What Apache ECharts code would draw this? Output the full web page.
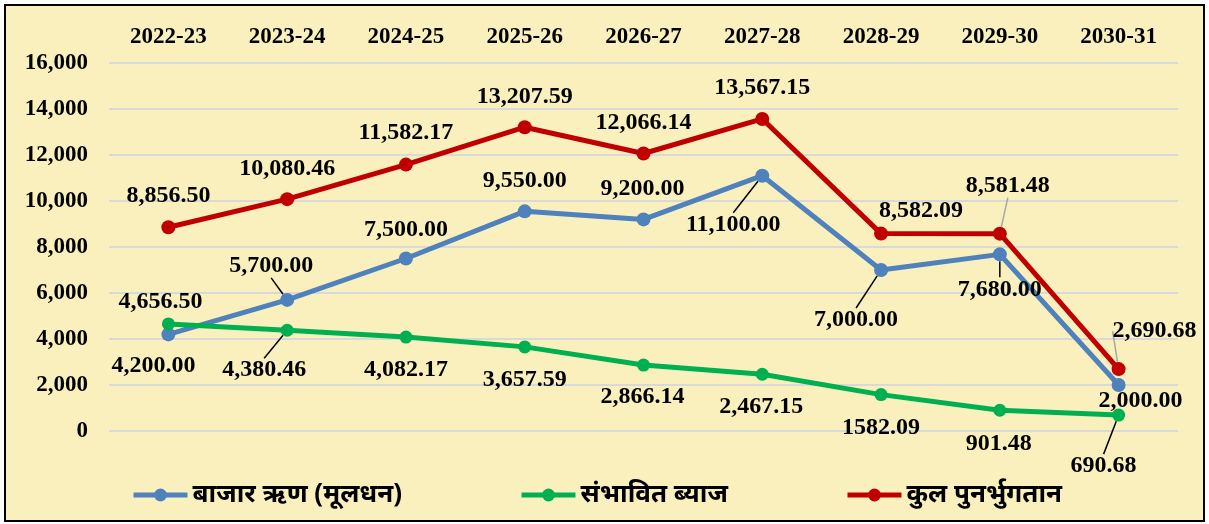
<!DOCTYPE html>
<html>
<head>
<meta charset="utf-8">
<script src="https://cdn.jsdelivr.net/npm/echarts@6/dist/echarts.min.js"></script>
<style>
html,body{margin:0;padding:0;background:#fff;}
#c{width:1209px;height:524px;}
</style>
</head>
<body>
<div id="c"></div>
<script>
// ---- data ----
const categories = ['2022-23','2023-24','2024-25','2025-26','2026-27','2027-28','2028-29','2029-30','2030-31'];
const seriesNames = ['बाजार ऋण (मूलधन)', 'संभावित ब्याज', 'कुल पुनर्भुगतान'];
const marketLoan = [4200, 5700, 7500, 9550, 9200, 11100, 7000, 7680, 2000];
const interest = [4656.5, 4380.46, 4082.17, 3657.59, 2866.14, 2467.15, 1582.09, 901.48, 690.68];
const totalRepay = [8856.5, 10080.46, 11582.17, 13207.59, 12066.14, 13567.15, 8582.09, 8581.48, 2690.68];
const marketLoanLabels = ['4,200.00','5,700.00','7,500.00','9,550.00','9,200.00','11,100.00','7,000.00','7,680.00','2,000.00'];
const interestLabels = ['4,656.50','4,380.46','4,082.17','3,657.59','2,866.14','2,467.15','1582.09','901.48','690.68'];
const totalRepayLabels = ['8,856.50','10,080.46','11,582.17','13,207.59','12,066.14','13,567.15','8,582.09','8,581.48','2,690.68'];
const yTicks = {min: 0, max: 16000, interval: 2000};

// ---- label placement (style only) ----
const blueOff = [[-15,31],[-16,-34],[0,-29],[0,-31],[-1,-31],[-29,49],[-25,50],[0,35],[22,16]];
const greenOff = [[-8,-22],[-23,40],[0,33],[0,33],[-1,32],[-1,33],[0,33],[-1,34],[-15,51]];
const redOff = [[0,-32],[0,-30],[0,-32],[0,-30],[0,-31],[0,-31],[40,-23],[8,-48],[36,-38]];
const blueLead = {1:'#000',5:'#000',6:'#000',7:'#000'};
const greenLead = {1:'#000',8:'#000'};
const redLead = {7:'#a6a6a6',8:'#a6a6a6'};

const FONT = '"Liberation Serif","Times New Roman",serif';
const colors = ['#4F81BD', '#00B050', '#C00000'];

function buildData(values, texts, leads) {
  return values.map((v, i) => {
    const item = {
      value: v,
      label: {formatter: texts[i]}
    };
    if (leads[i]) {
      item.labelLine = {show: true, lineStyle: {color: leads[i], width: 1.5}};
    }
    return item;
  });
}

function mkSeries(name, values, texts, offs, leads, color, symSize) {
  return {
    name: name,
    type: 'line',
    data: buildData(values, texts, leads),
    symbol: 'circle',
    symbolSize: symSize,
    lineStyle: {width: 5, color: color},
    itemStyle: {color: color},
    label: {
      show: true,
      position: 'inside',
      color: '#000',
      fontFamily: FONT,
      fontWeight: 'bold',
      fontSize: 24,
      textBorderWidth: 0
    },
    labelLayout: function (p) {
      const o = offs[p.dataIndex];
      return {dx: o[0], dy: o[1]};
    },
    animation: false
  };
}

const chart = echarts.init(document.getElementById('c'), null, {renderer: 'canvas'});

const legendBase = {
  bottom: 11,
  itemWidth: 54,
  itemHeight: 16,
  itemGap: 0,
  lineStyle: {width: 5},
  textStyle: {
    fontFamily: '"Noto Sans","Noto Sans Devanagari","Lohit Devanagari",sans-serif',
    fontWeight: 'bold',
    fontSize: 26,
    color: '#000'
  }
};

chart.setOption({
  backgroundColor: '#ffffff',
  color: colors,
  graphic: [{
    type: 'rect',
    left: 4, top: 4,
    shape: {width: 1199, height: 516},
    style: {fill: '#FAF0BE', stroke: '#000', lineWidth: 2},
    z: -100,
    silent: true
  }],
  grid: {left: 109, right: 31, top: 63, bottom: 93, containLabel: false},
  legend: [
    Object.assign({}, legendBase, {left: 126, data: [seriesNames[0]]}),
    Object.assign({}, legendBase, {left: 514, data: [seriesNames[1]]}),
    Object.assign({}, legendBase, {left: 840, data: [seriesNames[2]]})
  ],
  xAxis: {
    type: 'category',
    position: 'top',
    data: categories,
    boundaryGap: true,
    axisLine: {show: false},
    axisTick: {show: false},
    axisLabel: {
      margin: 14,
      color: '#000',
      fontFamily: FONT,
      fontWeight: 'bold',
      fontSize: 23
    },
    splitLine: {show: false}
  },
  yAxis: {
    type: 'value',
    min: yTicks.min,
    max: yTicks.max,
    interval: yTicks.interval,
    axisLine: {show: false},
    axisTick: {show: false},
    axisLabel: {
      margin: 21,
      color: '#000',
      fontFamily: FONT,
      fontWeight: 'bold',
      fontSize: 23,
      formatter: v => v.toLocaleString('en-US')
    },
    splitLine: {lineStyle: {color: '#D9D9D9', width: 2}}
  },
  series: [
    mkSeries(seriesNames[0], marketLoan, marketLoanLabels, blueOff, blueLead, colors[0], 14),
    mkSeries(seriesNames[1], interest, interestLabels, greenOff, greenLead, colors[1], 13),
    mkSeries(seriesNames[2], totalRepay, totalRepayLabels, redOff, redLead, colors[2], 14)
  ]
});
</script>
</body>
</html>
